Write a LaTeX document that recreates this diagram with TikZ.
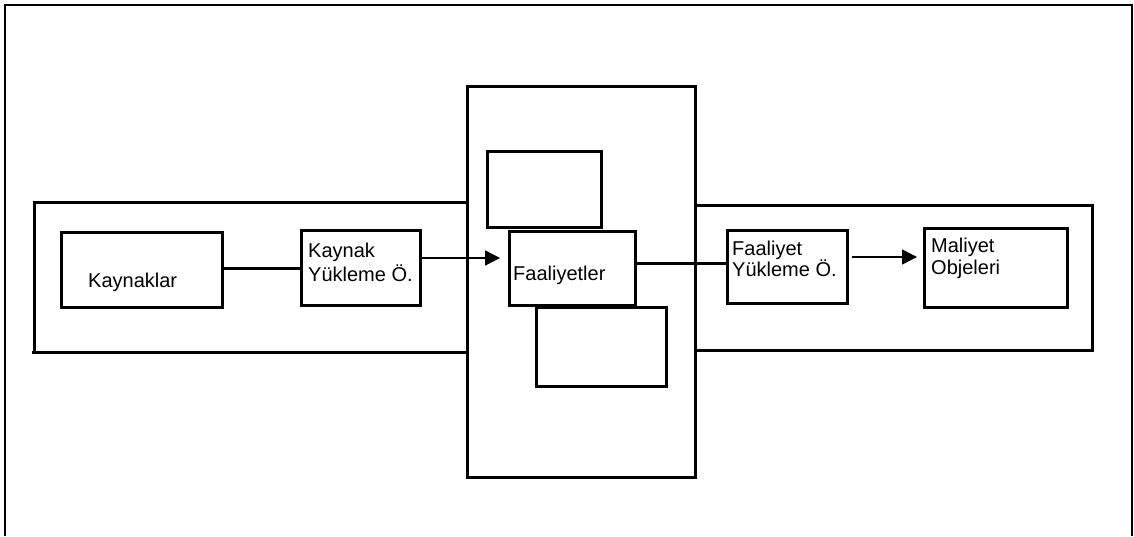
\documentclass[tikz,border=0pt]{standalone}
\usepackage{fontspec}
\setmainfont{Liberation Sans}
\usetikzlibrary{arrows.meta,fit}
\begin{document}
\begin{tikzpicture}[x=1pt,y=-1pt,
  frame/.style={line width=2pt},
  band/.style={line width=3pt},
  box/.style={draw, line width=3pt, fill=white, inner sep=0pt, rectangle},
  lbl/.style={inner sep=0pt, anchor=base west, font=\fontsize{20}{23}\selectfont},
  link/.style={line width=3pt},
  flow/.style={line width=1.5pt, -{Triangle[length=15pt,width=15pt]}}]
\useasboundingbox (0,0) rectangle (1134,536);

% outer frame, open at the bottom edge
\draw[frame] (5,536) -- (5,5) -- (1132,5) -- (1132,536);

% left and right bands
\draw[band] (467,202) -- (34,202) -- (34,352);
\draw[band] (32,352) -- (467,352);
\draw[band] (695,205) -- (1092,205) -- (1092,350);
\draw[band] (695,350) -- (1094,350);

% central block
\node[box, fit={(467,86) (695,477)}] (center) {};

% boxes
\node[box, fit={(61,232) (222,307)}] (kay) {};
\node[box, fit={(301,230) (420,305)}] (kyo) {};
\node[box, fit={(487,151) (601,227)}] (upper) {};
\node[box, fit={(509,231) (635,305)}] (fa) {};
\node[box, fit={(536,307) (666,386)}] (lower) {};
\node[box, fit={(727,230) (847,303)}] (fyo) {};
\node[box, fit={(924,228) (1067,307)}] (mal) {};

% labels
\node[lbl] (tkay) at (88,287) {Kaynaklar};
\node[lbl] (tkyo1) at (308,257) {Kaynak};
\node[lbl] (tkyo2) at (308,281) {Yükleme Ö.};
\node[lbl] (tfa) at (513,280) {Faaliyetler};
\node[lbl] (tfyo1) at (732,255) {Faaliyet};
\node[lbl] (tfyo2) at (732,276) {Yükleme Ö.};
\node[lbl] (tmal1) at (931,252) {Maliyet};
\node[lbl] (tmal2) at (931,274) {Objeleri};

% connector end points
\coordinate (a1s) at (kyo.east |- 0,258);
\coordinate (a1e) at (500,258);
\coordinate (l2s) at (fa.east |- 0,263);
\coordinate (l2e) at (fyo.west |- 0,263);
\coordinate (a2s) at (852,257);
\coordinate (a2e) at (917,257);

% connectors
\draw[link] (kay.east |- 0,268) -- (kyo.west |- 0,268);
\draw[flow] (a1s) -- (a1e);
\draw[link] (l2s) -- (l2e);
\draw[flow] (a2s) -- (a2e);
\end{tikzpicture}
\end{document}
